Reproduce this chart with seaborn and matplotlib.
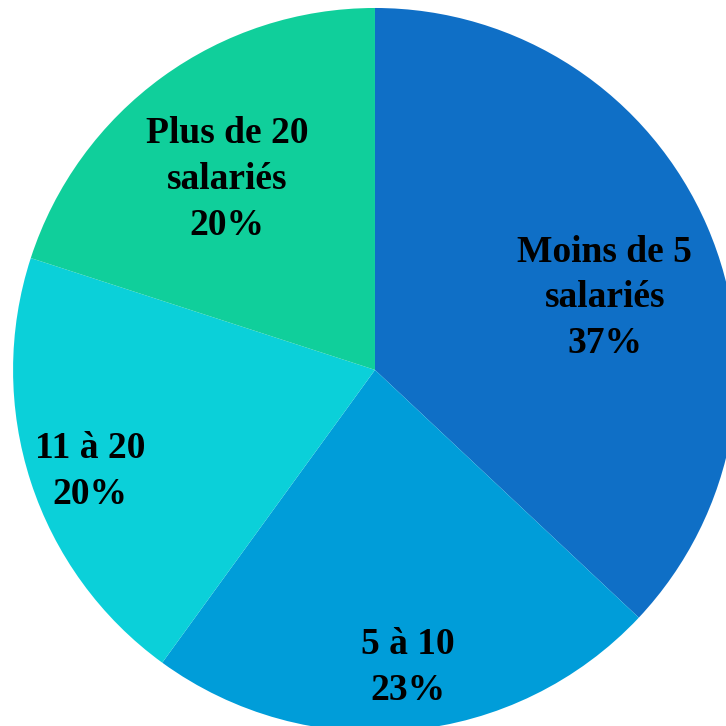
import numpy as np
import matplotlib
matplotlib.use("Agg")
import matplotlib.pyplot as plt
import seaborn as sns

# données (part des entreprises par taille)
labels = ["Moins de 5\nsalariés", "5 à 10", "11 à 20", "Plus de 20\nsalariés"]
values = [37, 23, 20, 20]
colors = ["#0F6FC6", "#009DD9", "#0BD0D9", "#10CF9B"]
label_dist = [0.665, 0.828, 0.836, 0.666]
label_shift = [-6.0, 0.9, 1.7, 1.9]  # décalage angulaire des étiquettes (degrés)

sns.set_theme(style="white")
plt.rcParams["font.family"] = ["Liberation Serif", "DejaVu Serif"]

fig = plt.figure(figsize=(7.26, 7.26), dpi=100)
ax = fig.add_axes([0.018, -0.008, 0.997, 0.997])
wedges, _ = ax.pie(values, colors=colors, startangle=90, counterclock=False,
                   radius=1.0, wedgeprops=dict(linewidth=0))
ax.set_xlim(-1, 1)
ax.set_ylim(-1, 1)
ax.set_aspect("equal")
ax.axis("off")

total = sum(values)
for w, lab, v, d, s in zip(wedges, labels, values, label_dist, label_shift):
    mid = np.deg2rad((w.theta1 + w.theta2) / 2 + s)
    ax.text(d * np.cos(mid), d * np.sin(mid), f"{lab}\n{v / total * 100:.0f}%",
            ha="center", va="center", fontsize=27, fontweight="bold",
            color="black", linespacing=1.4)

fig.savefig("out.png", dpi=100)
